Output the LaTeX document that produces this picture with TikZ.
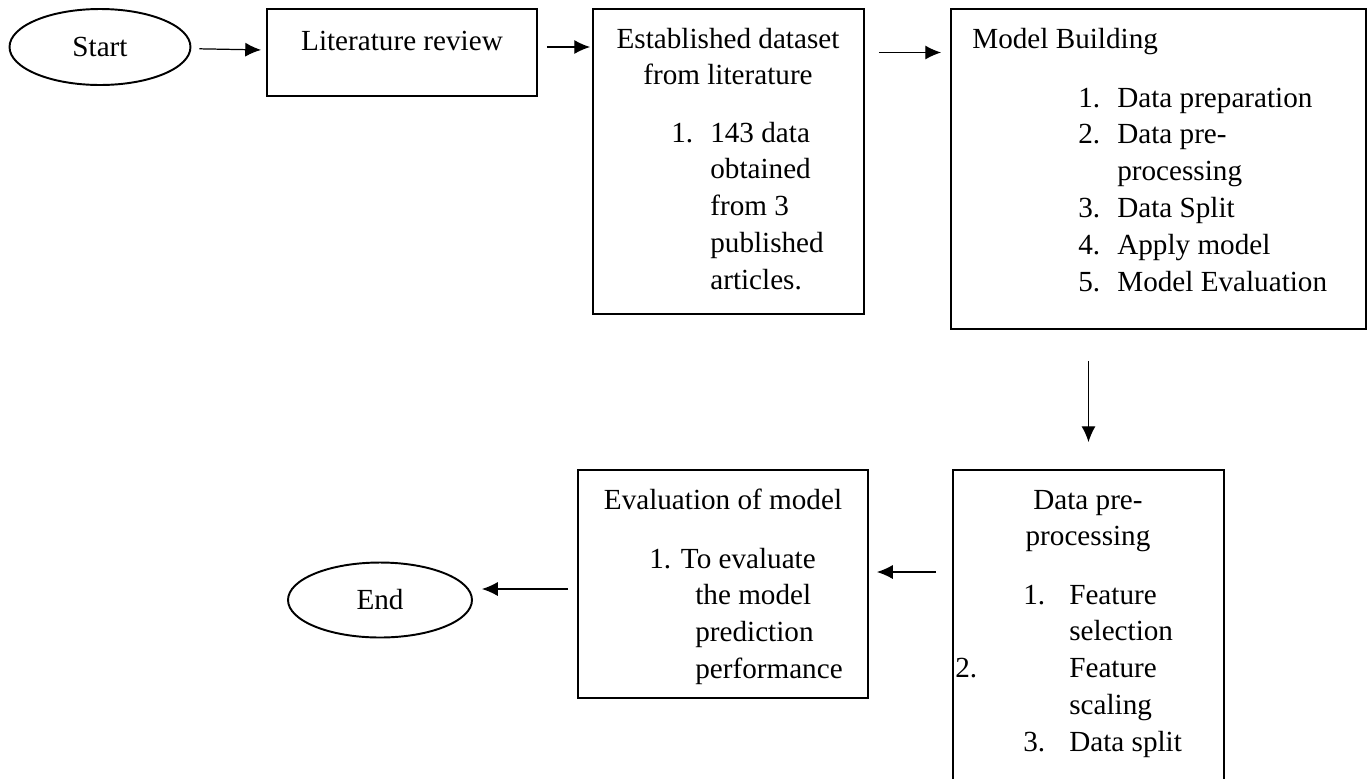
\documentclass[tikz,border=0pt]{standalone}
\usepackage{fontspec}
\setmainfont{Liberation Serif}
\usetikzlibrary{shapes.geometric, arrows.meta}

\begin{document}
\begin{tikzpicture}[x=0.02cm, y=-0.02cm, >={Latex[length=9pt,width=8pt]},
  txt/.style={inner sep=0pt, font=\fontsize{16.6}{21}\selectfont},
  box/.style={draw, line width=1.1pt, inner sep=0pt},
  oval/.style={draw, ellipse, line width=1.1pt, inner sep=0pt, font=\fontsize{16.6}{21}\selectfont},
  link/.style={->, line width=0.7pt}]
  \useasboundingbox (0,0) rectangle (1371,778);

  % shapes
  \node[oval, minimum width=3.62cm, minimum height=1.52cm] (start) at (100,47) {Start};
  \node[box, minimum width=5.4cm, minimum height=1.74cm] (lit) at (402,52.5) {};
  \node[box, minimum width=5.42cm, minimum height=6.1cm] (est) at (728.5,161.5) {};
  \node[box, minimum width=8.3cm, minimum height=6.4cm] (mb) at (1158.5,169) {};
  \node[box, minimum width=5.42cm, minimum height=6.6cm] (pre) at (1088.5,635) {};
  \node[box, minimum width=5.8cm, minimum height=4.56cm] (eval) at (723,584) {};
  \node[oval, minimum width=3.68cm, minimum height=1.5cm] (end) at (380,600) {End};

  % texts
  \node[txt, anchor=base] (littext) at (402,50) {Literature review};
  \node[txt, anchor=base] (esttitle) at (728,48)
    {\begin{tabular}[t]{@{}c@{}}Established dataset\\from literature\end{tabular}};
  \node[txt, anchor=base west] (estlist) at (671,142)
    {\begin{tabular}[t]{@{}p{0.78cm}@{}l@{}}1. & 143 data\\ & obtained\\ & from 3\\ & published\\ & articles.\end{tabular}};
  \node[txt, anchor=base west] (mbtitle) at (972,48) {Model Building};
  \node[txt, anchor=base west] (mblist) at (1078,107)
    {\begin{tabular}[t]{@{}p{0.78cm}@{}l@{}}1. & Data preparation\\ 2. & Data pre-\\ & processing\\ 3. & Data Split\\ 4. & Apply model\\ 5. & Model Evaluation\end{tabular}};
  \node[txt, anchor=base] (pretitle) at (1088,509)
    {\begin{tabular}[t]{@{}c@{}}Data pre-\\processing\end{tabular}};
  \node[txt, anchor=base west] (prelist) at (1023,604)
    {\begin{tabular}[t]{@{}l@{}l@{}}\makebox[0.92cm][l]{1.} & Feature\\ & selection\\ \hspace*{-1.36cm}\makebox[0.92cm][l]{2.} & Feature\\ & scaling\\ \makebox[0.92cm][l]{3.} & Data split\end{tabular}};
  \node[txt, anchor=base] (evaltitle) at (723,509) {Evaluation of model};
  \node[txt, anchor=base west] (evallist) at (649,568)
    {\begin{tabular}[t]{@{}p{0.92cm}@{}l@{}}\multicolumn{2}{@{}l@{}}{1. To evaluate}\\ & the model\\ & prediction\\ & performance\end{tabular}};

  % connectors
  \coordinate (evalin) at ([yshift=0.24cm]eval.east);
  \coordinate (endin) at ([yshift=0.22cm]end.east);
  \draw[link, shorten <=0.16cm, shorten >=0.1cm] (start) -- (lit);
  \draw[link, shorten <=0.18cm, shorten >=0.04cm] (start -| lit.east) -- (start -| est.west);
  \draw[link, shorten <=0.28cm, shorten >=0.18cm] (lit.east -| est.east) -- (lit.east -| mb.west);
  \draw[link, shorten <=0.62cm, shorten >=0.54cm] (mb.south -| pre.north) -- (pre.north);
  \draw[link, shorten <=0.32cm, shorten >=0.16cm] (evalin -| pre.west) -- (evalin);
  \draw[link, shorten <=0.18cm, shorten >=0.18cm] (endin -| eval.west) -- (endin);
\end{tikzpicture}
\end{document}
